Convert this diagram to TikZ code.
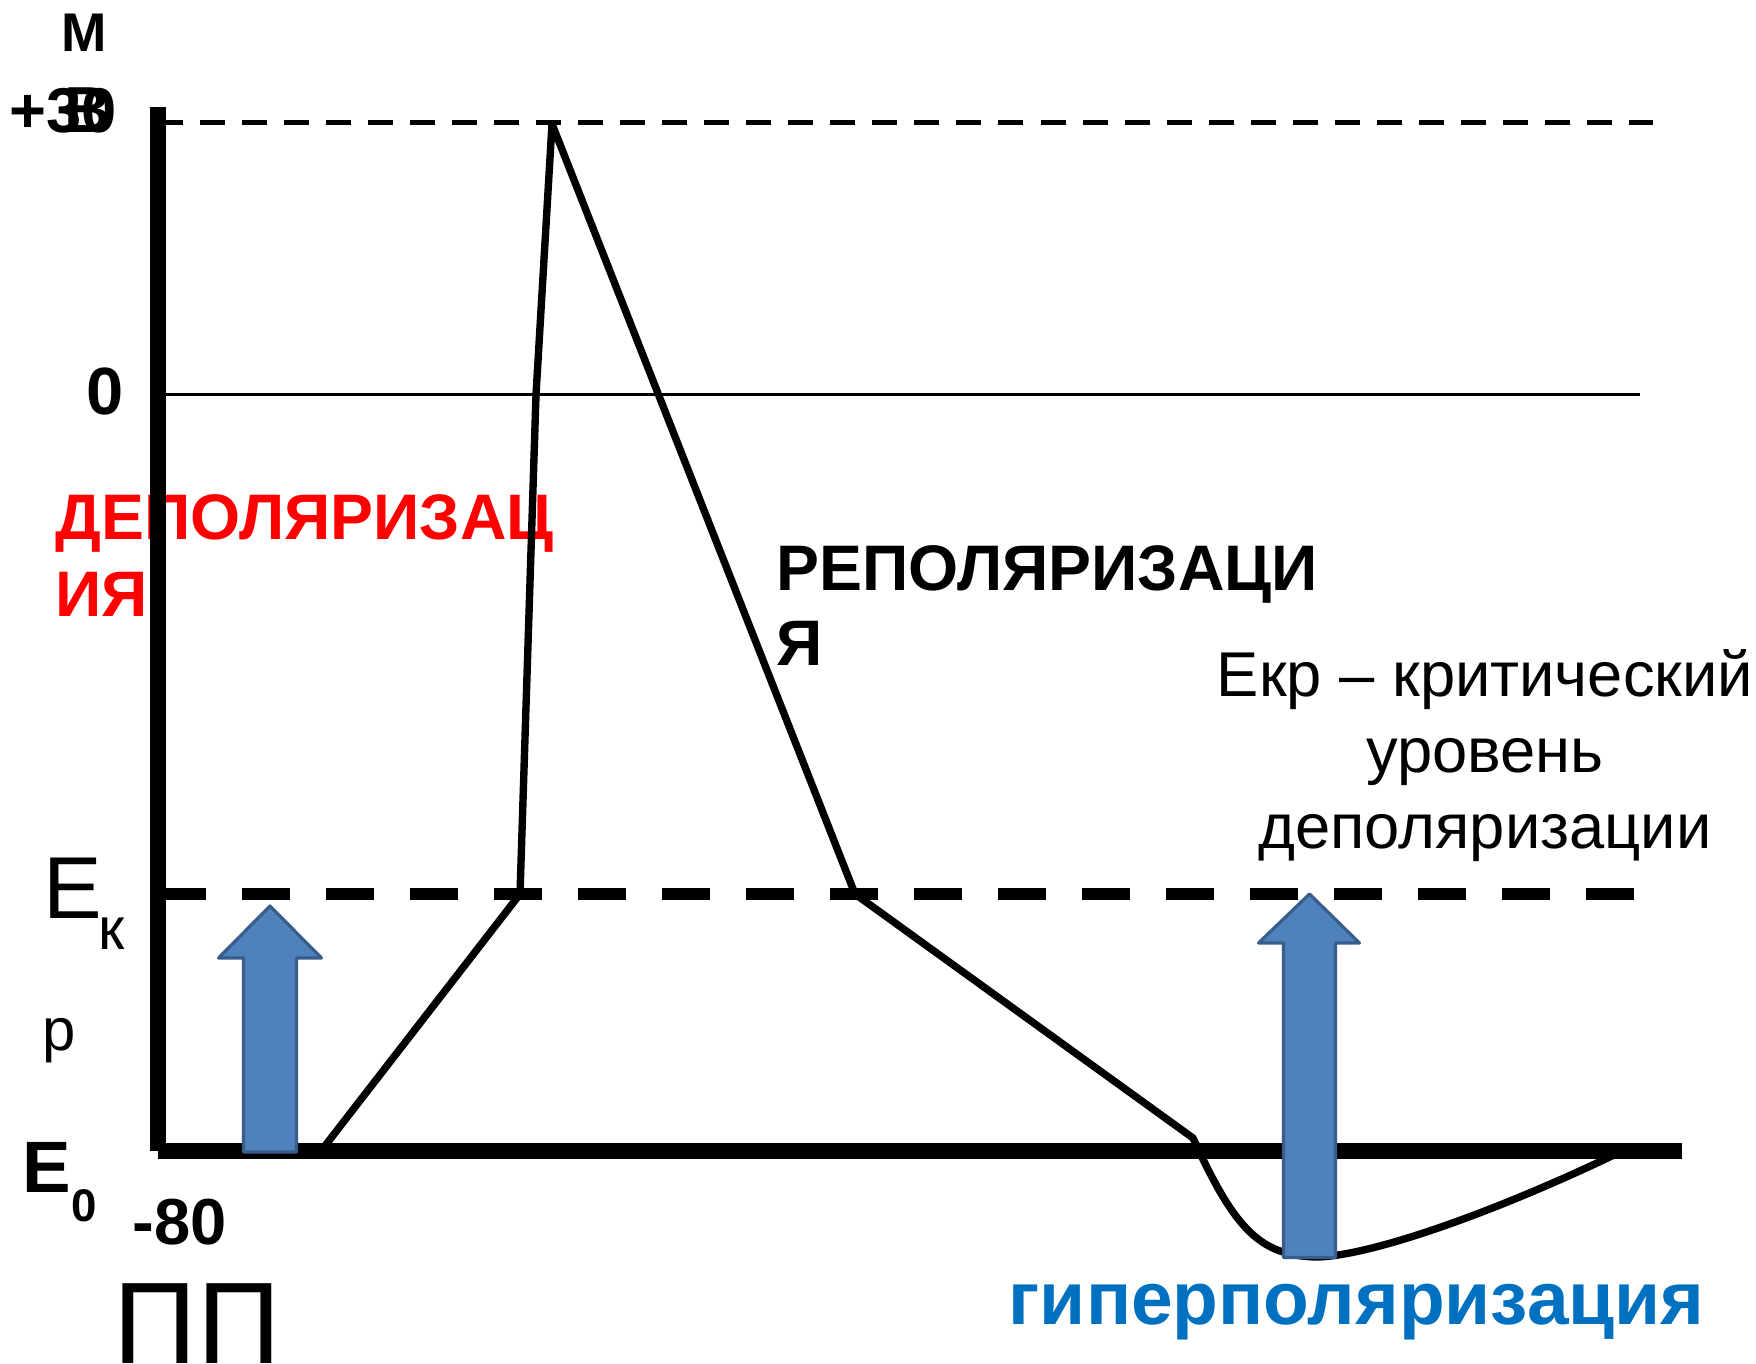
\documentclass[tikz,border=0pt]{standalone}
\usepackage{fontspec}
\setmainfont{Liberation Sans}
\usepackage{tikz}
\usetikzlibrary{calc}
\usetikzlibrary{positioning}

\definecolor{arrowfill}{HTML}{4F81BD}
\definecolor{arrowedge}{HTML}{385D8A}
\definecolor{hyperblue}{HTML}{0070C0}
\definecolor{depored}{HTML}{FF0000}

\newcommand{\fsz}[1]{\fontsize{#1}{#1}\selectfont}

\begin{document}
\begin{tikzpicture}[x=0.01cm,y=-0.01cm,
        lbl/.style={inner sep=0pt,anchor=base west},
        bigbold/.style={font=\bfseries\fsz{18.3pt}},
        axisline/.style={line width=4.55pt},
        curveline/.style={line width=2.1pt,line join=round},
        uparrow/.style={fill=arrowfill,draw=arrowedge,line width=0.9pt,line join=round}]
        \useasboundingbox (0,0) rectangle (1756,1364);
        % labels on the left
        \node[lbl,anchor=base,font=\bfseries\fsz{15.5pt}] (unitM) at (84,52) {М};
        \node[lbl,font=\bfseries\fsz{18pt}] (plusthirty) at (9,133) {+30};
        \node[lbl,anchor=base,font=\bfseries\fsz{18.5pt}] (unitV) at (88,133) {В};
        \node[lbl,anchor=base,font=\bfseries\fsz{19pt}] (zero) at (105,415) {0};
        \node[lbl,font=\fsz{25pt}] (ekrE) at (43,919) {Е};
        \node[lbl,font=\fsz{17pt}] (ekrK) at (98,950) {к};
        \node[lbl,font=\fsz{17pt}] (ekrR) at (42,1051) {р};
        \node[lbl,font=\bfseries\fsz{20.7pt}] (ezeroE) at (22,1193) {Е};
        \node[lbl,font=\bfseries\fsz{13pt}] (ezeroI) at (71,1222) {0};
        \node[lbl,font=\bfseries\fsz{18.5pt}] (minuseighty) at (132,1245) {-80};
        \node[lbl,font=\fsz{33pt}] (restpot) at (113,1364) {ПП};
        % phase names
        \node[lbl,bigbold,text=depored] (depoA) at (55,540) {ДЕПОЛЯРИЗАЦ};
        \node[lbl,bigbold,text=depored] (depoB) at (55,617) {ИЯ};
        \node[lbl,bigbold] (repoA) at (776,591) {РЕПОЛЯРИЗАЦИ};
        \node[lbl,bigbold] (repoB) at (776,666) {Я};
        \node[lbl,anchor=base,font=\fsz{18pt}] (critA) at (1485,697) {Екр – критический};
        \node[lbl,anchor=base,font=\fsz{18pt}] (critB) at (1485,773) {уровень};
        \node[lbl,anchor=base,font=\fsz{18pt}] (critC) at (1485,849) {деполяризации};
        \node[lbl,font=\bfseries\fsz{21.3pt},text=hyperblue] (hyper) at (1008,1325) {гиперполяризация};
        % levels
        \draw[line width=1.7pt,dash pattern=on 7.11pt off 4.84pt] (158,122.5)--(1653,122.5);
        \draw[line width=0.75pt] (166,394.5)--(1640,394.5);
        \draw[line width=3.41pt,dash pattern=on 13.51pt off 10.38pt] (158,894)--(1634,894);
        % axes
        \draw[axisline] (158,107)--(158,1151);
        \draw[axisline] (158,1151)--(1682,1151);
        % action potential
        \coordinate (foot) at (321,1151);
        \coordinate (thrUp) at (520,894);
        \coordinate (zeroUp) at (536,395);
        \coordinate (peak) at (552,124);
        \coordinate (thrDown) at (855,894);
        \coordinate (kink) at (1193,1138);
        \coordinate (trough) at (1315,1257);
        \coordinate (back) at (1618,1153);
        \draw[curveline] (foot)--(thrUp)--(zeroUp)--(peak)--(thrDown)--(kink)
            .. controls (1235,1230) and (1260,1255) .. (trough)
            .. controls (1370,1257) and (1500,1210) .. (back);
        % block arrows
        \draw[uparrow] (243.5,1152)--(243.5,958)--(218.5,958)--(270,906)--(321.5,958)--(296.5,958)--(296.5,1152)--cycle;
        \draw[uparrow] (1283.5,1257.5)--(1283.5,943)--(1258.5,943)--(1309.5,894)--(1359.5,943)--(1335.5,943)--(1335.5,1257.5)--cycle;
    \end{tikzpicture}
\end{document}
